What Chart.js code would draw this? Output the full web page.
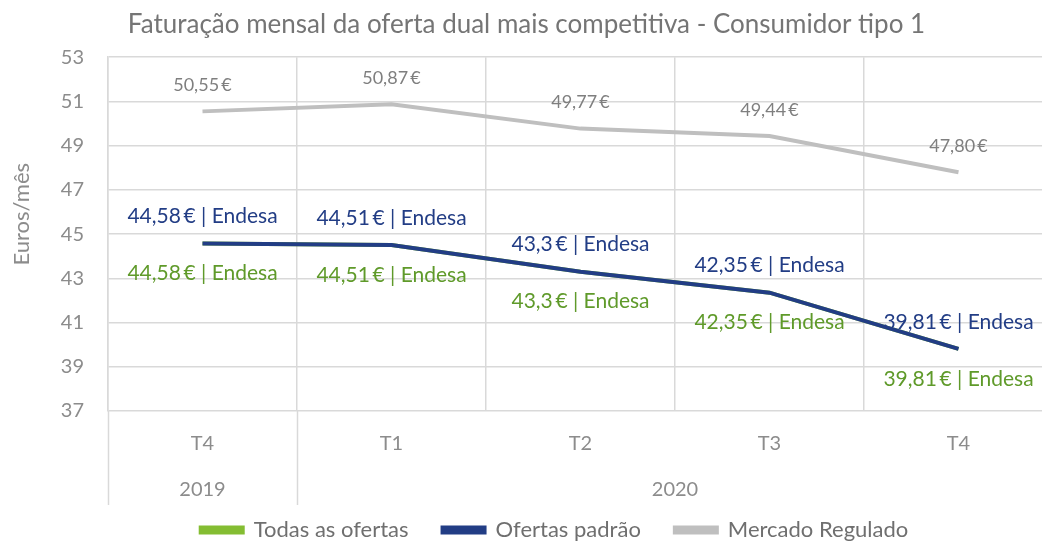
<!DOCTYPE html>
<html>
<head>
<meta charset="utf-8">
<script src="https://cdn.jsdelivr.net/npm/chart.js@4.4.1/dist/chart.umd.min.js"></script>
<style>
  html, body { margin: 0; padding: 0; background: #fff; overflow: hidden; }
  #wrap { width: 1053px; height: 542px; }
</style>
</head>
<body>
<div id="wrap"><canvas id="chart" width="1053" height="542"></canvas></div>
<script>
// quarters and year groups on the x axis
const quarters = ["T4", "T1", "T2", "T3", "T4"];
const years = ["2019", "2020"];
const yearSpans = [1, 4];

// monthly bill (EUR/month)
const todasOfertas = [44.58, 44.51, 43.3, 42.35, 39.81];
const ofertasPadrao = [44.58, 44.51, 43.3, 42.35, 39.81];
const mercadoRegulado = [50.55, 50.87, 49.77, 49.44, 47.80];
const supplier = "Endesa";

const yTicks = [37, 39, 41, 43, 45, 47, 49, 51, 53];
const yTitle = "Euros/mês";

const FONT = "Lato, 'Open Sans', sans-serif";
const GREEN = "#84bd32";
const GREEN_TXT = "#5f9a2a";
const BLUE = "#223d85";
const GRAY = "#bfbfbf";
const GRAY_TXT = "#7f7f7f";
const GRID = "#d9d9d9";

function fmt(v, fixed) {
  return (fixed ? v.toFixed(2) : String(v)).replace(".", ",");
}

// value labels, drawn at each point using the dataset meta
const valueLabels = {
  id: "valueLabels",
  afterDatasetsDraw(chart) {
    const ctx = chart.ctx;
    ctx.save();
    ctx.textAlign = "center";
    ctx.textBaseline = "middle";
    chart.data.datasets.forEach((ds, i) => {
      const meta = chart.getDatasetMeta(i);
      meta.data.forEach((pt, j) => {
        const v = ds.data[j];
        let text, dy;
        if (ds.labelKind === "reg") {
          text = fmt(v, true) + "\u2009€";
          dy = -26;
          ctx.font = "18px " + FONT;
          ctx.fillStyle = GRAY_TXT;
        } else {
          text = fmt(v, false) + "\u2009€ | " + supplier;
          dy = ds.labelKind === "top" ? -27 : 30;
          ctx.font = "21px " + FONT;
          ctx.fillStyle = ds.labelKind === "top" ? BLUE : GREEN_TXT;
        }
        ctx.fillText(text, pt.x, pt.y + dy);
      });
    });
    ctx.restore();
  }
};

// second level of the category axis: years with separators, plus the y title
const yearAxis = {
  id: "yearAxis",
  afterLayout(chart) {
    // legend sits a bit right of centre in the original
    chart.legend.left += 28;
    chart.legend.right += 28;
  },
  afterDraw(chart) {
    const ctx = chart.ctx;
    const area = chart.chartArea;
    const step = (area.right - area.left) / quarters.length;
    ctx.save();
    ctx.strokeStyle = GRID;
    ctx.lineWidth = 1.5;
    ctx.font = "20px " + FONT;
    ctx.fillStyle = "#8c8c8c";
    ctx.textAlign = "center";
    ctx.textBaseline = "middle";
    let start = 0;
    const bounds = [area.left];
    years.forEach((yr, k) => {
      const end = start + yearSpans[k];
      const x0 = area.left + start * step;
      const x1 = area.left + end * step;
      bounds.push(x1);
      ctx.fillText(yr, (x0 + x1) / 2, area.bottom + 79);
      start = end;
    });
    bounds.forEach(b => {
      ctx.beginPath();
      ctx.moveTo(Math.round(b) + 0.5, area.bottom);
      ctx.lineTo(Math.round(b) + 0.5, area.bottom + 94);
      ctx.stroke();
    });
    // y axis title
    ctx.translate(22, area.top + 157);
    ctx.rotate(-Math.PI / 2);
    ctx.font = "22px " + FONT;
    ctx.fillText(yTitle, 0, 0);
    ctx.restore();
  }
};

const ctx = document.getElementById("chart").getContext("2d");

new Chart(ctx, {
  type: "line",
  data: {
    labels: quarters,
    datasets: [
      {
        label: "Todas as ofertas",
        data: todasOfertas,
        borderColor: GREEN,
        backgroundColor: GREEN,
        borderWidth: 4,
        pointRadius: 0,
        order: 3,
        labelKind: "bottom"
      },
      {
        label: "Ofertas padrão",
        data: ofertasPadrao,
        borderColor: BLUE,
        backgroundColor: BLUE,
        borderWidth: 4,
        pointRadius: 0,
        order: 1,
        labelKind: "top"
      },
      {
        label: "Mercado Regulado",
        data: mercadoRegulado,
        borderColor: GRAY,
        backgroundColor: GRAY,
        borderWidth: 4,
        pointRadius: 0,
        order: 2,
        labelKind: "reg"
      }
    ]
  },
  options: {
    responsive: false,
    animation: false,
    layout: { padding: { top: 0, bottom: -9, left: 0, right: 0 } },
    plugins: {
      title: {
        display: true,
        text: "Faturação mensal da oferta dual mais competitiva - Consumidor tipo 1",
        color: "#757575",
        font: { family: FONT, size: 26, weight: "normal" },
        padding: { top: 9, bottom: 17 }
      },
      legend: {
        position: "bottom",
        labels: {
          color: "#6f6f6f",
          font: { family: FONT, size: 22 },
          boxWidth: 42,
          boxHeight: 5,
          padding: 34,
          sort: (a, b) => a.datasetIndex - b.datasetIndex
        }
      },
      tooltip: { enabled: false }
    },
    scales: {
      x: {
        offset: true,
        grid: { offset: true, color: GRID, lineWidth: 1.5, drawTicks: false },
        border: { display: false },
        ticks: {
          color: "#8c8c8c",
          font: { family: FONT, size: 20 },
          padding: 21
        },
        afterFit: scale => { scale.height = 74; }
      },
      y: {
        min: 37,
        max: 53,
        afterBuildTicks: scale => { scale.ticks = yTicks.map(v => ({ value: v })); },
        grid: { color: GRID, lineWidth: 1.5, drawTicks: false },
        border: { color: GRID, width: 1.5 },
        ticks: {
          color: "#8c8c8c",
          font: { family: FONT, size: 20 },
          padding: 24
        },
        afterFit: scale => { scale.width = 108; }
      }
    }
  },
  plugins: [valueLabels, yearAxis]
});
</script>
</body>
</html>
